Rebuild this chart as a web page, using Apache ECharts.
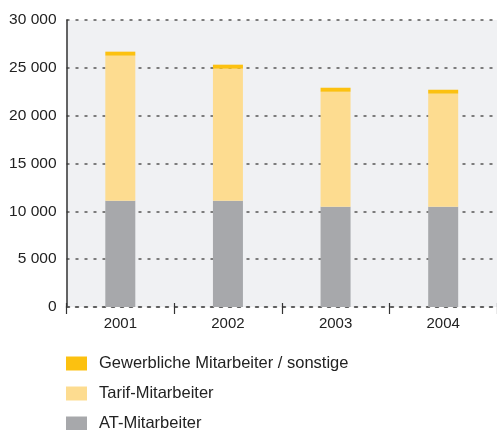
<!DOCTYPE html>
<html>
<head>
<meta charset="utf-8">
<script src="https://cdn.jsdelivr.net/npm/echarts@6/dist/echarts.min.js"></script>
<style>
  html, body { margin: 0; padding: 0; background: #fff; }
  #chart { width: 497px; height: 430px; }
</style>
</head>
<body>
<div id="chart"></div>
<script>
// Workforce by employee group, 2001–2004
const years = ['2001', '2002', '2003', '2004'];
const atMitarbeiter = [11100, 11100, 10480, 10480];
const tarifMitarbeiter = [15170, 13810, 12020, 11820];
const gewerblicheSonstige = [420, 420, 420, 410];
const yTicks = [0, 5000, 10000, 15000, 20000, 25000, 30000];

const seriesNames = {
  gew: 'Gewerbliche Mitarbeiter / sonstige',
  tarif: 'Tarif-Mitarbeiter',
  at: 'AT-Mitarbeiter'
};

const font = 'Liberation Sans, Arial, sans-serif';
const textColor = '#222';

function formatThousands(v) {
  return String(v).replace(/\B(?=(\d{3})+(?!\d))/g, ' ');
}

const chart = echarts.init(document.getElementById('chart'), null, { renderer: 'canvas' });

chart.setOption({
  animation: false,
  backgroundColor: '#fff',
  textStyle: { fontFamily: font },
  grid: {
    left: 66.5,
    right: 0,
    top: 20,
    height: 287,
    show: true,
    backgroundColor: '#f0f1f3',
    borderWidth: 0
  },
  legend: {
    orient: 'vertical',
    left: 66,
    top: 355,
    height: 120,
    padding: 0,
    itemWidth: 21,
    itemHeight: 14,
    itemGap: 13,
    icon: 'rect',
    data: [seriesNames.gew, seriesNames.tarif, seriesNames.at],
    textStyle: {
      fontSize: 16.5,
      color: textColor,
      fontFamily: font,
      padding: [0, 0, 0, 7]
    }
  },
  xAxis: [
    {
      type: 'category',
      data: years,
      axisLine: {
        show: true,
        lineStyle: { color: '#555', width: 1.5, type: [3, 6] }
      },
      axisTick: {
        show: true,
        length: 7,
        lineStyle: { color: '#333', width: 1.2 }
      },
      axisLabel: { fontSize: 15, color: textColor, margin: 9, fontFamily: font },
      splitLine: { show: false }
    },
    {
      // inner half of the category boundary ticks, so they cross the base line
      type: 'category',
      data: years,
      position: 'bottom',
      axisLine: { show: false },
      axisTick: {
        show: true,
        inside: true,
        length: 4,
        lineStyle: { color: '#333', width: 1.2 }
      },
      axisLabel: { show: false },
      splitLine: { show: false }
    }
  ],
  yAxis: {
    type: 'value',
    min: yTicks[0],
    max: yTicks[yTicks.length - 1],
    interval: yTicks[1] - yTicks[0],
    axisLine: { show: true, lineStyle: { color: '#333', width: 1.5 } },
    axisTick: { show: false },
    axisLabel: {
      fontSize: 15.5,
      color: textColor,
      margin: 10,
      fontFamily: font,
      formatter: formatThousands
    },
    splitLine: {
      show: true,
      lineStyle: { color: '#555', width: 1.5, type: [3, 6] }
    }
  },
  series: [
    {
      name: seriesNames.at,
      type: 'bar',
      stack: 'total',
      barWidth: 30,
      data: atMitarbeiter,
      itemStyle: { color: '#a7a8ab' }
    },
    {
      name: seriesNames.tarif,
      type: 'bar',
      stack: 'total',
      barWidth: 30,
      data: tarifMitarbeiter,
      itemStyle: { color: '#fddc90' }
    },
    {
      name: seriesNames.gew,
      type: 'bar',
      stack: 'total',
      barWidth: 30,
      data: gewerblicheSonstige,
      itemStyle: { color: '#fcc110' }
    }
  ]
});
</script>
</body>
</html>
